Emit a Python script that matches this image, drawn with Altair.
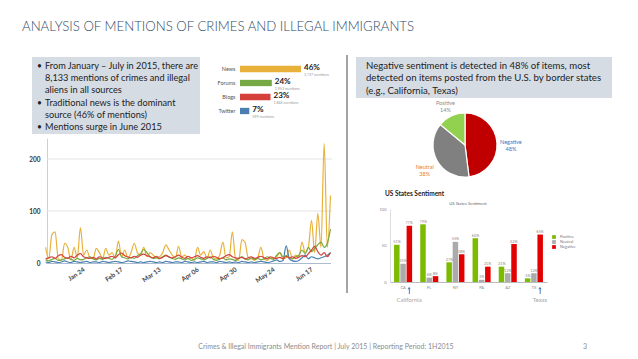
import altair as alt
import pandas as pd

W, H = 622, 343

# ---------------- text content ----------------
title_text = "ANALYSIS OF MENTIONS OF CRIMES AND ILLEGAL IMMIGRANTS"
left_bullets = ["•", "", "", "•", "", "•"]
left_lines = [
    "From January – July in 2015, there are",
    "8,133 mentions of crimes and illegal",
    "aliens in all sources",
    "Traditional news is the dominant",
    "source (46% of mentions)",
    "Mentions surge in June 2015",
]
right_lines = [
    "Negative sentiment is detected in 48% of items, most",
    "detected on items posted from the U.S. by border states",
    "(e.g., California, Texas)",
]
footer_text = "Crimes & Illegal Immigrants Mention Report | July 2015 | Reporting Period: 1H2015"
page_no = "3"

# ---------------- source share bars ----------------
sources = ["News", "Forums", "Blogs", "Twitter"]
source_pct = [46, 24, 23, 7]
source_mentions = ["3,737 mentions", "1,953 mentions", "1,844 mentions", "599 mentions"]
source_colors = ["#e8b23a", "#76a844", "#d6403a", "#4a7fb0"]

# ---------------- daily mentions (every 2nd day from Jan 1 2015) ----------------
news = [30, 8, 55, 60, 8, 5, 38, 30, 6, 30, 10, 68, 15, 25, 10, 8, 28, 20, 8, 28,
        15, 20, 10, 42, 12, 25, 10, 20, 38, 20, 15, 30, 12, 20, 15, 10, 12, 20, 35, 25,
        15, 10, 32, 12, 15, 8, 10, 5, 30, 15, 22, 8, 25, 10, 8, 15, 40, 10, 12, 60,
        8, 5, 45, 40, 10, 8, 5, 10, 30, 8, 5, 10, 8, 12, 20, 8, 10, 25, 8, 15,
        12, 40, 20, 30, 82, 20, 95, 30, 230, 30, 130]
forums = [6, 4, 7, 9, 5, 6, 8, 10, 7, 5, 9, 6, 7, 10, 12, 8, 6, 9, 7, 11,
          9, 7, 13, 26, 12, 10, 8, 11, 9, 14, 18, 26, 20, 12, 9, 10, 8, 12, 15, 11,
          9, 7, 10, 8, 6, 9, 5, 7, 10, 8, 6, 9, 12, 7, 5, 8, 10, 6, 8, 7,
          5, 9, 12, 8, 6, 10, 7, 9, 6, 8, 12, 9, 7, 15, 20, 12, 14, 10, 8, 12,
          15, 25, 18, 30, 22, 28, 35, 40, 30, 38, 65]
blogs = [8, 10, 12, 9, 14, 16, 11, 9, 13, 10, 15, 18, 12, 10, 9, 11, 8, 12, 10, 9,
         11, 13, 10, 16, 19, 14, 12, 10, 13, 11, 15, 17, 14, 12, 10, 13, 9, 11, 14, 12,
         10, 12, 15, 11, 9, 13, 10, 12, 14, 11, 9, 12, 10, 13, 11, 8, 10, 14, 16, 12,
         10, 9, 11, 8, 10, 12, 9, 11, 13, 10, 8, 12, 10, 9, 11, 8, 13, 10, 12, 9,
         11, 14, 12, 18, 25, 32, 22, 15, 20, 12, 20]
twitter = [2, 1, 3, 2, 1, 2, 4, 2, 1, 3, 2, 1, 2, 3, 1, 2, 2, 1, 3, 2,
           1, 2, 3, 2, 1, 2, 4, 3, 2, 1, 2, 1, 2, 3, 2, 1, 2, 1, 3, 2,
           1, 2, 2, 1, 3, 2, 1, 2, 1, 2, 3, 1, 2, 2, 1, 3, 2, 1, 2, 1,
           2, 1, 3, 2, 1, 2, 1, 2, 3, 2, 1, 2, 4, 6, 3, 5, 33, 8, 4, 3,
           5, 10, 15, 8, 12, 10, 8, 10, 12, 15, 20]
tick_dates = [(1, 24), (2, 17), (3, 13), (4, 6), (4, 30), (5, 24), (6, 17)]
y_ticks_line = [0, 100, 200]
grid_values = [100, 200]

# ---------------- pie ----------------
sentiments = ["Negative", "Neutral", "Positive"]
sentiment_pct = [48, 38, 14]
pie_colors = ["#c00000", "#808080", "#92d050"]
pie_label_colors = ["#4472c4", "#ed7d31", "#8c8c8c"]

# ---------------- grouped state bars ----------------
states = ["CA", "FL", "NY", "PA", "AZ", "TX"]
bar_sentiments = ["Positive", "Neutral", "Negative"]
state_positive = [51, 79, 27, 60, 21, 5]
state_neutral = [25, 6, 55, 3, 12, 12]
state_negative = [77, 8, 38, 21, 52, 65]
bar_colors = ["#7cbb00", "#ababab", "#e30000"]
arrow_states = ["CA", "TX"]
arrow_names = ["California", "Texas"]

FONT = "Lato"
one = pd.DataFrame({"k": [0]})


def txt(s, x, y, size, color, weight="normal", align="left", baseline="middle", font=FONT):
    return alt.Chart(one).mark_text(
        text=s, fontSize=size, color=color, fontWeight=weight, align=align,
        baseline=baseline, font=font
    ).encode(x=alt.value(x), y=alt.value(y))


def box(x0, x1, y0, y1, color):
    return alt.Chart(one).mark_rect(color=color).encode(
        x=alt.value(x0), x2=alt.value(x1), y=alt.value(y0), y2=alt.value(y1))


layers = []

# title
layers.append(txt(title_text, 14, 23, 13.2, "#2f4a66", weight=300, baseline="alphabetic"))

# left text box
layers.append(box(24, 192, 49, 126, "#d6dce4"))
ly = [58, 70.2, 82.4, 94.6, 106.8, 119]
for b, s, y in zip(left_bullets, left_lines, ly):
    if b:
        layers.append(txt(b, 29, y, 8.5, "#222"))
    layers.append(txt(s, 37, y, 9.2, "#222"))

# right text box
layers.append(box(348, 604, 49, 90, "#d6dce4"))
for s, y in zip(right_lines, [58, 70.4, 82.8]):
    layers.append(txt(s, 358, y, 9.6, "#222"))

# divider
layers.append(alt.Chart(one).mark_rule(color="#4a4a4a", strokeWidth=1).encode(
    x=alt.value(339), y=alt.value(47), y2=alt.value(285)))

# ---------- source share bars ----------
src_df = pd.DataFrame({"source": sources, "pct": source_pct,
                       "pct_label": [f"{p}%" for p in source_pct],
                       "mentions": source_mentions})


def sx():
    return alt.Scale(domain=[0, 100], range=[232, 364.6], nice=False)


def sy():
    return alt.Scale(domain=sources, range=[54, 110], paddingInner=0.55, paddingOuter=0.275)


layers.append(alt.Chart(src_df).mark_bar().encode(
    x=alt.X("pct:Q", scale=sx(), axis=None),
    y=alt.Y("source:N", scale=sy(), sort=sources,
            axis=alt.Axis(orient="left", offset=-232, ticks=False, domain=False, title=None,
                          labelFontSize=5.5, labelColor="#555", labelPadding=5, labelFont=FONT)),
    color=alt.Color("source:N", scale=alt.Scale(domain=sources, range=source_colors), legend=None),
))
layers.append(alt.Chart(src_df).mark_text(align="left", dx=3, dy=-1, fontSize=8, fontWeight="bold",
                                          color="#222", font=FONT).encode(
    x=alt.X("pct:Q", scale=sx(), axis=None),
    y=alt.Y("source:N", scale=sy(), axis=None),
    text="pct_label:N"))
layers.append(alt.Chart(src_df).mark_text(align="left", dx=3, dy=6, fontSize=3.6,
                                          color="#999", font=FONT).encode(
    x=alt.X("pct:Q", scale=sx(), axis=None),
    y=alt.Y("source:N", scale=sy(), axis=None),
    text="mentions:N"))

# ---------- line chart ----------
dates = pd.date_range("2015-01-01", periods=len(news), freq="2D").strftime("%Y-%m-%dT00:00:00")
ts = pd.concat([
    pd.DataFrame({"date": dates, "source": name, "count": vals})
    for name, vals in [("News", news), ("Twitter", twitter), ("Forums", forums), ("Blogs", blogs)]
])


def lx():
    return alt.Scale(domain=[alt.DateTime(year=2015, month=1, date=1),
                             alt.DateTime(year=2015, month=6, date=30)],
                     range=[37.6, 322.5])


def ly_():
    return alt.Scale(domain=[0, 240], range=[255, 130.2], nice=False)


layers.append(alt.Chart(pd.DataFrame({"v": grid_values})).mark_rule(color="#e3e3e3").encode(
    y=alt.Y("v:Q", scale=ly_(), axis=None), x=alt.value(39), x2=alt.value(324)))

layers.append(alt.Chart(ts).mark_line(strokeWidth=1.2, interpolate="monotone").encode(
    x=alt.X("date:T", scale=lx(),
            axis=alt.Axis(orient="bottom", offset=-88, title=None, grid=False, ticks=False,
                          values=[alt.DateTime(year=2015, month=m, date=d) for m, d in tick_dates],
                          format="%b %d", labelAngle=325, labelAlign="right", labelBaseline="top",
                          labelFontSize=6.5, labelFontWeight="bold", labelColor="#444",
                          labelPadding=3, labelFlush=False, labelOverlap=False,
                          domainColor="#a9bcd0", labelFont=FONT)),
    y=alt.Y("count:Q", scale=ly_(),
            axis=alt.Axis(orient="left", offset=-39, title=None, grid=False, ticks=False,
                          values=y_ticks_line, labelFontSize=6.5, labelFontWeight="bold",
                          labelColor="#333", labelPadding=7, domainColor="#cfcfcf",
                          labelFont=FONT)),
    color=alt.Color("source:N", scale=alt.Scale(domain=sources, range=source_colors), legend=None),
))

# ---------- pie ----------
pie_df = pd.DataFrame({"sentiment": sentiments, "value": sentiment_pct,
                       "idx": list(range(len(sentiments))),
                       "label": [f"{s}\n{v}%" for s, v in zip(sentiments, sentiment_pct)]})
layers.append(alt.Chart(pie_df).mark_arc(outerRadius=32, stroke="white", strokeWidth=1.2).encode(
    theta=alt.Theta("value:Q", stack=True),
    order=alt.Order("idx:Q"),
    color=alt.Color("sentiment:N", scale=alt.Scale(domain=sentiments, range=pie_colors), legend=None),
    x=alt.value(457), y=alt.value(137)))
layers.append(alt.Chart(pie_df).mark_text(radius=46, lineBreak="\n", fontSize=5.5, font=FONT,
                                          lineHeight=7).encode(
    theta=alt.Theta("value:Q", stack=True),
    order=alt.Order("idx:Q"),
    text="label:N",
    color=alt.Color("sentiment:N", scale=alt.Scale(domain=sentiments, range=pie_label_colors),
                    legend=None),
    x=alt.value(457), y=alt.value(137)))

# ---------- grouped state bars ----------
rows = []
for i, st in enumerate(states):
    for s, vals in zip(bar_sentiments, [state_positive, state_neutral, state_negative]):
        rows.append({"state": st, "sentiment": s, "value": vals[i], "lbl": f"{vals[i]}%"})
st_df = pd.DataFrame(rows)


def bx():
    return alt.Scale(domain=states, range=[382, 539], paddingInner=0.31, paddingOuter=0.155)


def bo():
    return alt.Scale(domain=bar_sentiments, paddingInner=0.12)


def by():
    return alt.Scale(domain=[0, 100], range=[274, 201], nice=False)


layers.append(txt("US States Sentiment", 377, 186, 6.5, "#222", weight="bold"))
layers.append(txt("US States Sentiment", 460, 196, 4.2, "#666", align="center"))

layers.append(alt.Chart(st_df).mark_bar().encode(
    x=alt.X("state:N", scale=bx(), sort=states,
            axis=alt.Axis(orient="bottom", offset=-69, title=None, ticks=False, labelAngle=0,
                          labelFontSize=4, labelColor="#888", domainColor="#bbbbbb",
                          labelPadding=3, labelFont=FONT)),
    xOffset=alt.XOffset("sentiment:N", scale=bo(), sort=bar_sentiments),
    y=alt.Y("value:Q", scale=by(),
            axis=alt.Axis(orient="left", offset=-382, title=None, ticks=False, grid=False,
                          values=[0, 50, 100], labelFontSize=4, labelColor="#888",
                          domainColor="#dddddd", labelPadding=4, labelFont=FONT)),
    color=alt.Color("sentiment:N", scale=alt.Scale(domain=bar_sentiments, range=bar_colors),
                    legend=alt.Legend(orient="none", legendX=544, legendY=227, title=None,
                                      symbolType="square", symbolSize=14, labelFontSize=4,
                                      labelColor="#777", rowPadding=1, symbolStrokeWidth=0,
                                      labelFont=FONT)),
))
layers.append(alt.Chart(st_df).mark_text(fontSize=3.8, color="#888", baseline="bottom", dy=-0.5,
                                         font=FONT).encode(
    x=alt.X("state:N", scale=bx(), axis=None),
    xOffset=alt.XOffset("sentiment:N", scale=bo()),
    y=alt.Y("value:Q", scale=by(), axis=None),
    text="lbl:N"))

arrow_df = pd.DataFrame({"state": arrow_states, "sentiment": "Negative", "name": arrow_names})
layers.append(alt.Chart(arrow_df).mark_rule(color="#4a7fc0", strokeWidth=1).encode(
    x=alt.X("state:N", scale=bx(), axis=None),
    xOffset=alt.XOffset("sentiment:N", scale=bo()),
    y=alt.value(280), y2=alt.value(286)))
layers.append(alt.Chart(arrow_df).mark_point(shape="triangle-up", filled=True, size=10,
                                             color="#4a7fc0", opacity=1).encode(
    x=alt.X("state:N", scale=bx(), axis=None),
    xOffset=alt.XOffset("sentiment:N", scale=bo()),
    y=alt.value(280)))
layers.append(alt.Chart(arrow_df).mark_text(fontSize=6, color="#a6a6a6", font=FONT).encode(
    x=alt.X("state:N", scale=bx(), axis=None),
    xOffset=alt.XOffset("sentiment:N", scale=bo()),
    y=alt.value(292),
    text="name:N"))

# footer
layers.append(txt(footer_text, 318, 339, 7, "#8c8c8c", align="center"))
layers.append(txt(page_no, 577, 339, 7, "#8c8c8c", align="center"))

chart = alt.layer(*layers).resolve_scale(
    x="independent", y="independent", color="independent", theta="independent",
    xOffset="independent"
).properties(
    width=W, height=H, padding=0, autosize=alt.AutoSizeParams(type="none")
).configure_view(stroke=None)

chart.save("out.html", embed_options={"renderer": "svg", "actions": False})
